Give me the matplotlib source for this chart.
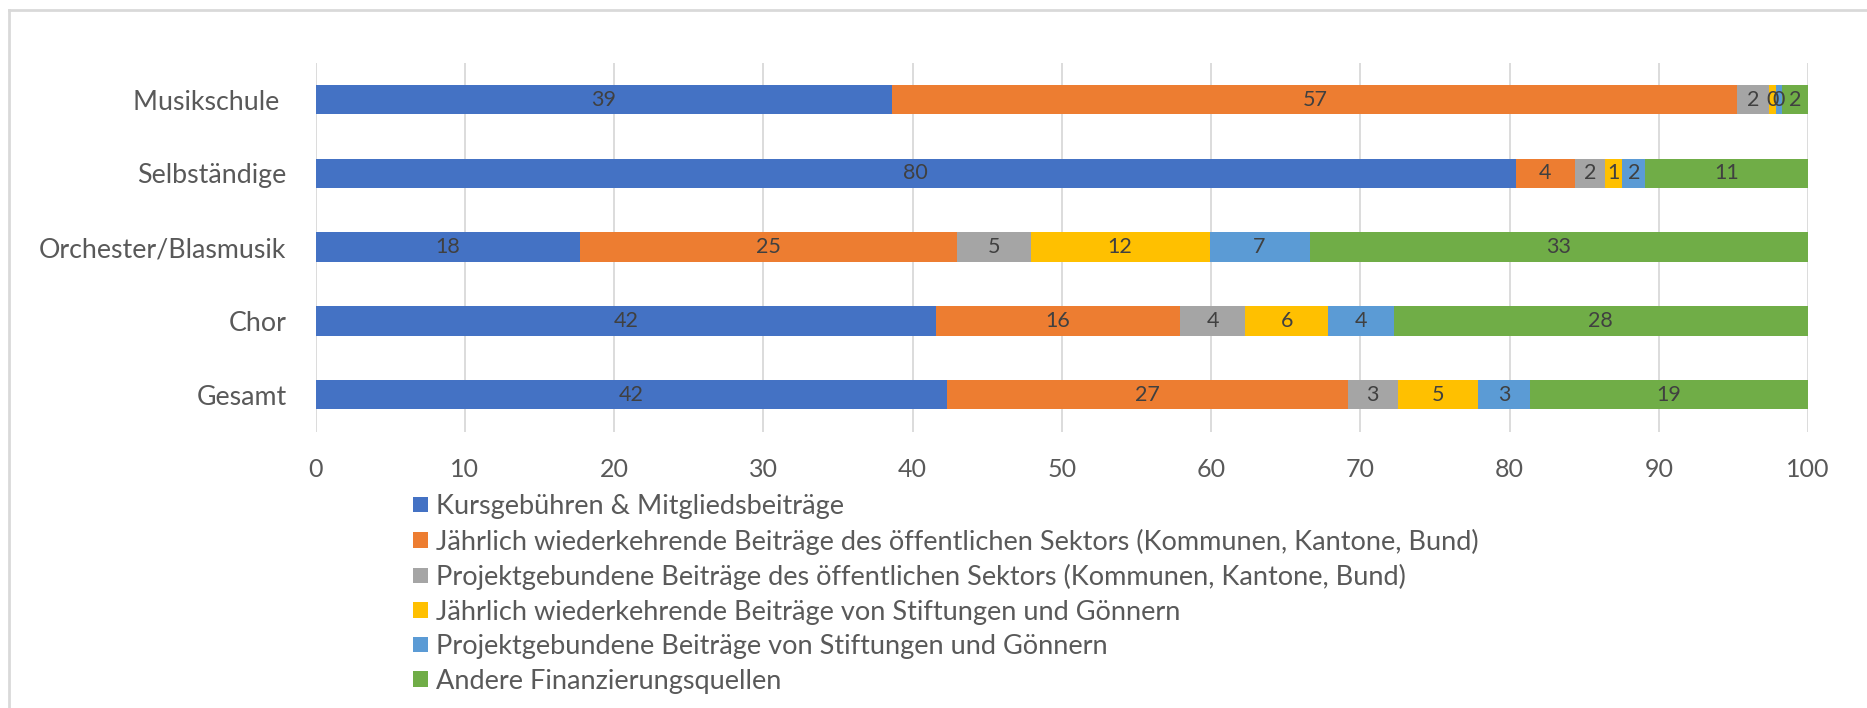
import matplotlib
matplotlib.use("Agg")
import matplotlib.pyplot as plt
from matplotlib.patches import Patch
from matplotlib.lines import Line2D

plt.rcParams['font.family'] = ['Lato', 'DejaVu Sans']

# Categories, bottom to top (as drawn by Excel)
categories = ["Gesamt", "Chor", "Orchester/Blasmusik", "Selbständige", "Musikschule "]

series_names = [
    "Kursgebühren & Mitgliedsbeiträge",
    "Jährlich wiederkehrende Beiträge des öffentlichen Sektors (Kommunen, Kantone, Bund)",
    "Projektgebundene Beiträge des öffentlichen Sektors (Kommunen, Kantone, Bund)",
    "Jährlich wiederkehrende Beiträge von Stiftungen und Gönnern",
    "Projektgebundene Beiträge von Stiftungen und Gönnern",
    "Andere Finanzierungsquellen",
]

# values per series, ordered like categories
kursgebuehren = [42.30, 41.60, 17.68, 80.43, 38.65]
oeff_jaehrlich = [26.85, 16.30, 25.32, 3.94, 56.60]
oeff_projekt = [3.35, 4.40, 4.90, 2.05, 2.15]
stift_jaehrlich = [5.40, 5.56, 12.00, 1.12, 0.45]
stift_projekt = [3.45, 4.38, 6.70, 1.57, 0.40]
andere = [18.65, 27.76, 33.40, 10.89, 1.75]

series_values = [kursgebuehren, oeff_jaehrlich, oeff_projekt,
                 stift_jaehrlich, stift_projekt, andere]
colors = ["#4472C4", "#ED7D31", "#A5A5A5", "#FFC000", "#5B9BD5", "#70AD47"]

x_ticks = list(range(0, 101, 10))

W, H = 1867, 708
fig = plt.figure(figsize=(W / 100, H / 100), dpi=100)
ax_left, ax_right, ax_top, ax_bottom = 315.7, 1808.0, 62.7, 431.5
ax = fig.add_axes([ax_left / W, 1 - ax_bottom / H,
                   (ax_right - ax_left) / W, (ax_bottom - ax_top) / H])

ypos = list(range(len(categories)))
left = [0.0] * len(categories)
for name, vals, col in zip(series_names, series_values, colors):
    bars = ax.barh(ypos, vals, left=left, height=0.4, color=col, label=name,
                   zorder=3)
    ax.bar_label(bars, labels=[f"{v:.0f}" for v in vals], label_type='center',
                 color="#404040", fontsize=15.5, zorder=4)
    left = [l + v for l, v in zip(left, vals)]

ax.set_xlim(0, 100)
ax.set_ylim(-0.5, len(categories) - 0.5)
ax.set_xticks(x_ticks)
ax.set_yticks(ypos)
ax.set_yticklabels(categories)
ax.tick_params(axis='x', length=0, pad=19, labelsize=18, labelcolor="#595959")
ax.tick_params(axis='y', length=0, pad=21, labelsize=19.3, labelcolor="#595959")
for s in ax.spines.values():
    s.set_visible(False)
ax.set_axisbelow(True)
ax.xaxis.grid(True, color="#D9D9D9", linewidth=1.3)
ax.yaxis.grid(False)

handles = [Patch(facecolor=c, edgecolor='none') for c in colors]
fig.legend(handles, series_names, loc='upper left',
           bbox_to_anchor=(412.7 / W, 1 - 494 / H), frameon=False,
           fontsize=19.5, labelcolor="#595959", handlelength=0.58,
           handleheight=0.49, handletextpad=0.28, labelspacing=0.35,
           borderpad=0, borderaxespad=0)

# chart area border (cropped Excel chart frame)
fig.add_artist(Line2D([9 / W, 1.0], [1 - 10 / H, 1 - 10 / H],
                      transform=fig.transFigure, color="#D9D9D9", linewidth=2))
fig.add_artist(Line2D([9 / W, 9 / W], [0.0, 1 - 10 / H],
                      transform=fig.transFigure, color="#D9D9D9", linewidth=2))

fig.savefig("out.png", dpi=100, facecolor="white")
